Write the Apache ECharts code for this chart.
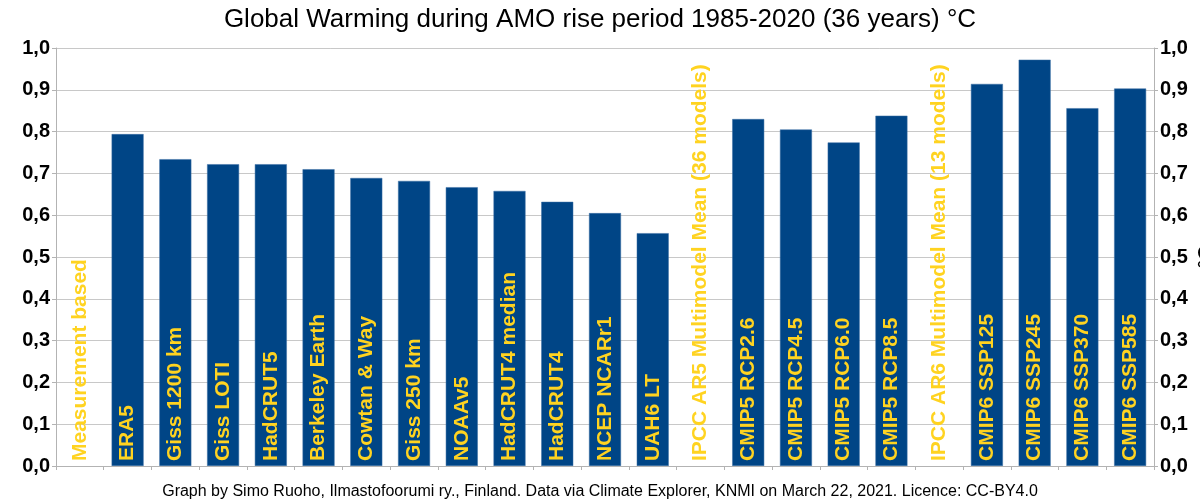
<!DOCTYPE html>
<html>
<head>
<meta charset="utf-8">
<script src="https://cdn.jsdelivr.net/npm/echarts@6/dist/echarts.min.js"></script>
<style>
  html, body { margin: 0; padding: 0; background: #fff; }
  #chart { width: 1200px; height: 500px; }
</style>
</head>
<body>
<div id="chart"></div>
<script>
// slots: group headers are empty slots carrying only a label
const categories = [
  'Measurement based', 'ERA5', 'Giss 1200 km', 'Giss LOTI', 'HadCRUT5', 'Berkeley Earth',
  'Cowtan & Way', 'Giss 250 km', 'NOAAv5', 'HadCRUT4 median', 'HadCRUT4', 'NCEP NCARr1', 'UAH6 LT',
  'IPCC AR5 Multimodel Mean (36 models)', 'CMIP5 RCP2.6', 'CMIP5 RCP4.5', 'CMIP5 RCP6.0', 'CMIP5 RCP8.5',
  'IPCC AR6 Multimodel Mean (13 models)', 'CMIP6 SSP125', 'CMIP6 SSP245', 'CMIP6 SSP370', 'CMIP6 SSP585'
];
const warming = [
  null, 0.794, 0.734, 0.722, 0.722, 0.710,
  0.689, 0.682, 0.667, 0.658, 0.632, 0.605, 0.557,
  null, 0.830, 0.805, 0.774, 0.838,
  null, 0.914, 0.972, 0.856, 0.903
];

const chart = echarts.init(document.getElementById('chart'));

const valueAxis = {
  type: 'value',
  min: 0,
  max: 1,
  interval: 0.1,
  axisLine: { show: true, lineStyle: { color: '#b3b3b3' } },
  axisTick: { show: true, length: 4, lineStyle: { color: '#b3b3b3' } },
  splitLine: { show: true, lineStyle: { color: '#c8c8c8', width: 1 } },
  axisLabel: {
    fontFamily: 'Liberation Sans',
    fontWeight: 'bold',
    fontSize: 20,
    color: '#000',
    margin: 6,
    formatter: v => v.toFixed(1).replace('.', ',')
  }
};

chart.setOption({
  animation: false,
  title: [
    {
      text: 'Global Warming during AMO rise period 1985-2020 (36 years) °C',
      left: 'center',
      top: 2,
      textStyle: { fontFamily: 'Liberation Sans', fontSize: 26, fontWeight: 'normal', color: '#000' }
    },
    {
      text: 'Graph by Simo Ruoho, Ilmastofoorumi ry., Finland. Data via Climate Explorer, KNMI on March 22, 2021. Licence: CC-BY4.0',
      left: 'center',
      top: 479,
      textStyle: { fontFamily: 'Liberation Sans', fontSize: 16, fontWeight: 'normal', color: '#000' }
    }
  ],
  grid: { left: 56, right: 46, top: 48, bottom: 34, outerBoundsMode: 'none' },
  xAxis: {
    type: 'category',
    data: categories,
    z: 10,
    axisLine: { show: true, lineStyle: { color: '#b3b3b3' } },
    axisTick: { show: true, length: 4, lineStyle: { color: '#b3b3b3' } },
    splitLine: { show: false },
    axisLabel: {
      inside: true,
      rotate: 90,
      interval: 0,
      margin: 5,
      color: '#ffd320',
      fontFamily: 'Liberation Sans',
      fontWeight: 'bold',
      fontSize: 21
    }
  },
  yAxis: [
    Object.assign({ position: 'left' }, valueAxis),
    Object.assign({
      position: 'right',
      name: '°C',
      nameLocation: 'middle',
      nameRotate: 90,
      nameGap: 42,
      nameMoveOverlap: false,
      nameTextStyle: { fontFamily: 'Liberation Sans', fontWeight: 'bold', fontSize: 20, color: '#000' }
    }, valueAxis)
  ],
  series: [{
    type: 'bar',
    data: warming,
    barWidth: '67%',
    z: 1,
    itemStyle: { color: '#004586', borderColor: '#3a6fa5', borderWidth: 0.5 }
  }]
});
</script>
</body>
</html>
